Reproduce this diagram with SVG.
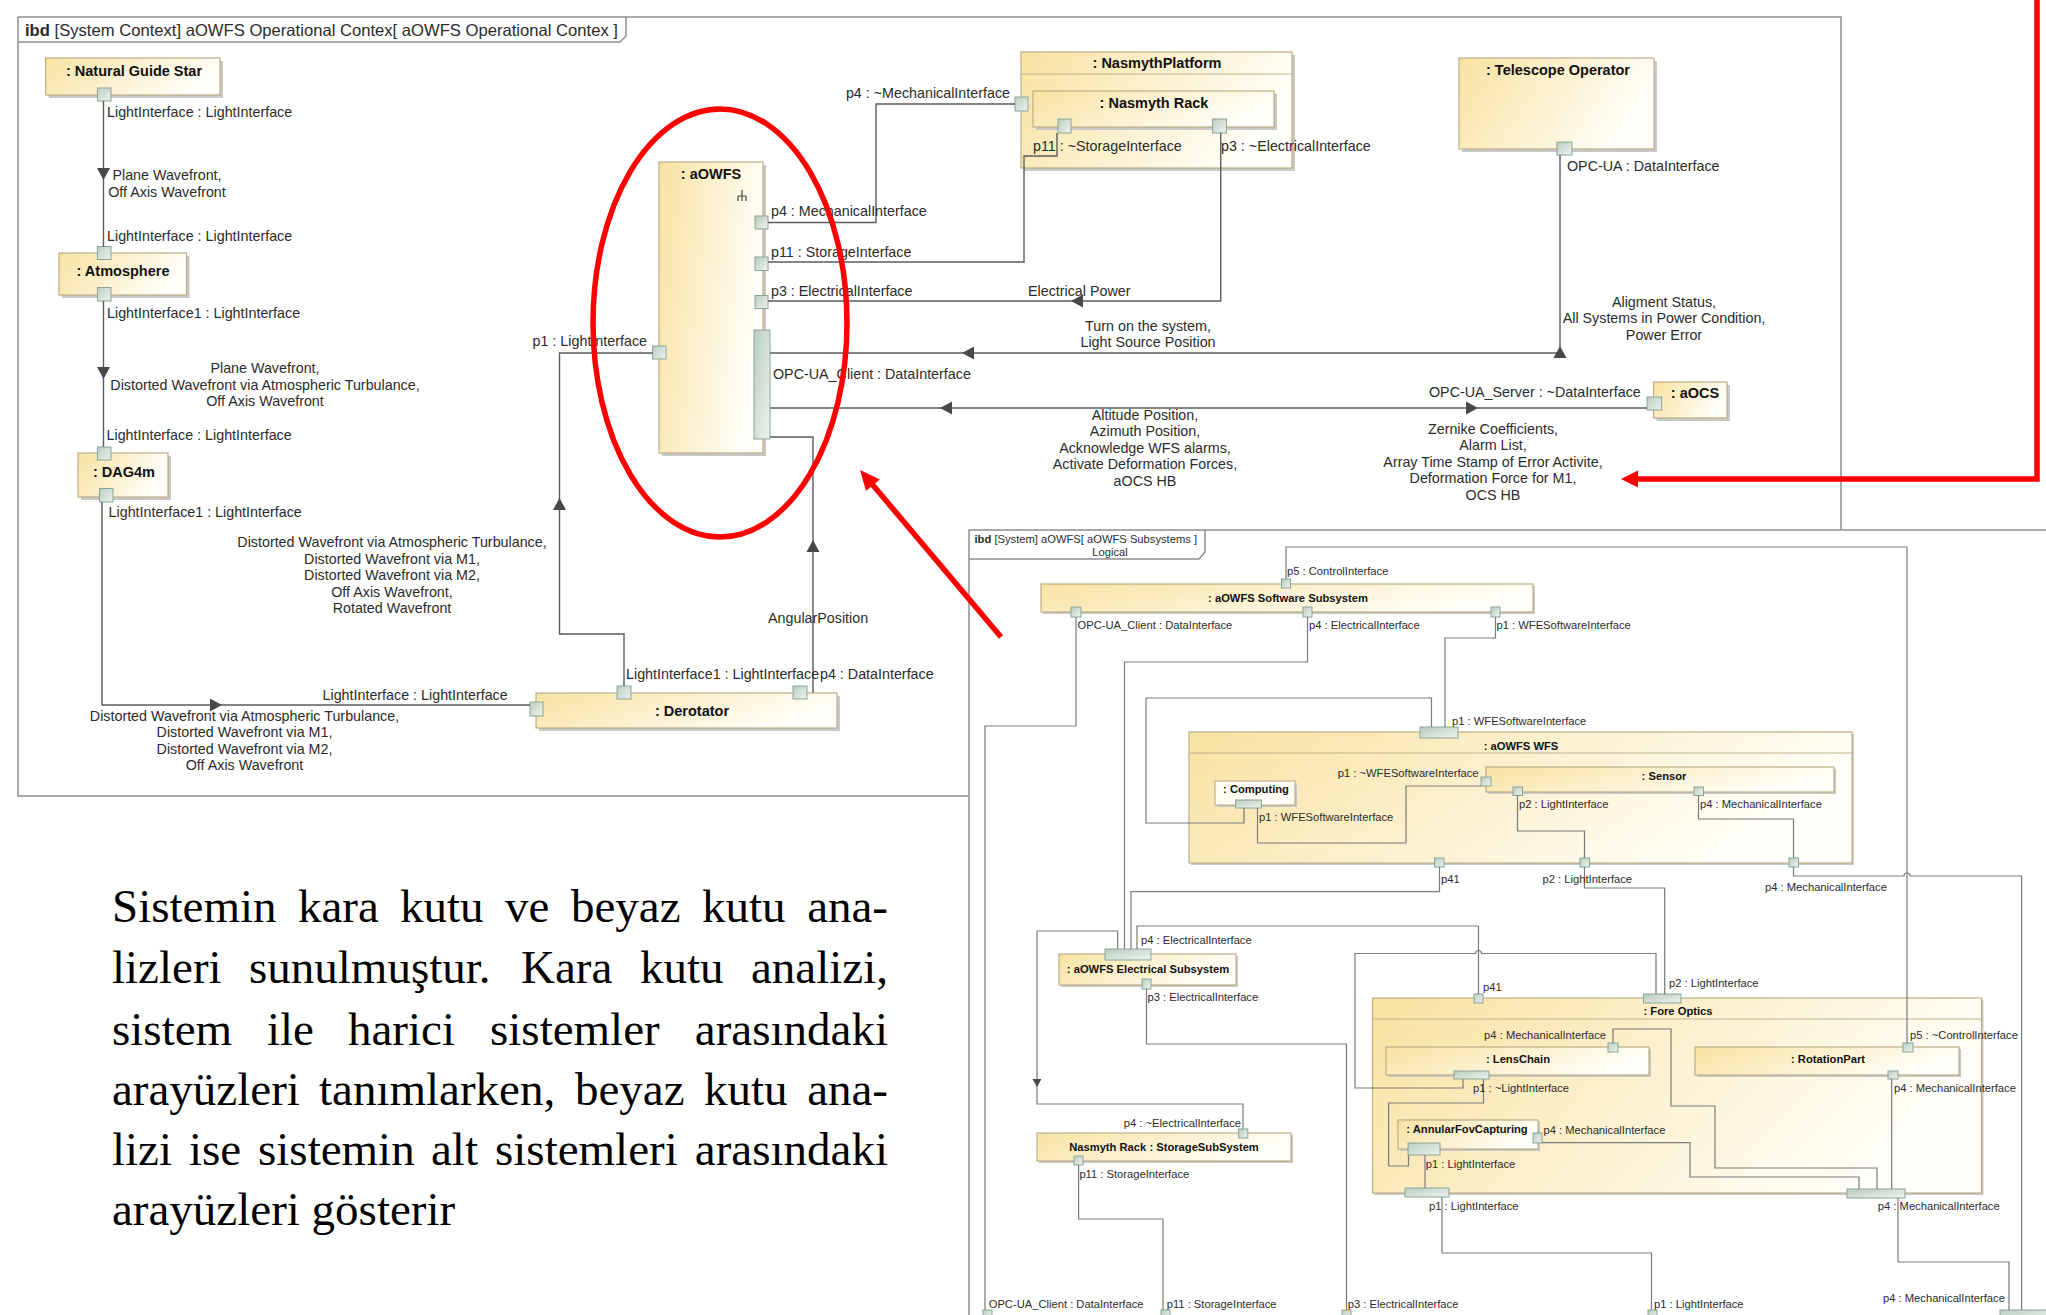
<svg xmlns="http://www.w3.org/2000/svg" width="2046" height="1315" viewBox="0 0 2046 1315">
<style>
.bg{fill:#fff}
.frame{fill:none;stroke:#8e8e8e;stroke-width:1.5}
.nd{fill:url(#ng);stroke:#bcae86;stroke-width:1.2}
.sh{fill:#c9c9c9}
.hdr{stroke:#c2b48e;stroke-width:1.1}
.pt{fill:url(#pg);stroke:#8ba595;stroke-width:1}
.cn{fill:none;stroke:#5c5c5c;stroke-width:1.4}
.icn{fill:none;stroke:#7b7b7b;stroke-width:1.2}
.l{font-family:"Liberation Sans",Arial,sans-serif;font-size:14.3px;fill:#2b2b2b}
.t{font-family:"Liberation Sans",Arial,sans-serif;font-size:14.5px;font-weight:bold;fill:#111}
.il{font-family:"Liberation Sans",Arial,sans-serif;font-size:11.2px;fill:#2b2b2b}
.it{font-family:"Liberation Sans",Arial,sans-serif;font-size:11.2px;font-weight:bold;fill:#111}
.mid{text-anchor:middle}
.end{text-anchor:end}
.red{fill:none;stroke:#f00;stroke-width:5.5}
.body{font-family:"Liberation Serif","Times New Roman",serif;font-size:47px;fill:#000}
</style>
<defs>
<linearGradient id="ng" x1="0" y1="0" x2="1" y2="0.3">
<stop offset="0" stop-color="#f8e3a2"/>
<stop offset="0.35" stop-color="#fbecc0"/>
<stop offset="1" stop-color="#fffef9"/>
</linearGradient>
<linearGradient id="pg" x1="0" y1="0" x2="1" y2="1">
<stop offset="0" stop-color="#b9cdc0"/>
<stop offset="1" stop-color="#eef3ef"/>
</linearGradient>
<path id="tri" d="M0,0 L-12,-6.5 L-12,6.5 Z" fill="#484848"/>
<path id="tri-s" d="M0,0 L-8,-4.5 L-8,4.5 Z" fill="#484848"/>
</defs>
<rect class="bg" x="0" y="0" width="2046" height="1315"/>

<!-- ===== System context diagram ===== -->
<g id="context-frame">
<path class="frame" d="M18,17 H1841 V530 M18,17 V796 H968"/>
<path class="frame" d="M18,42 H620 L626,36 V17"/>
<text class="l" x="25" y="35.5" style="font-size:16.5px" textLength="593" lengthAdjust="spacingAndGlyphs"><tspan font-weight="bold">ibd</tspan> [System Context] aOWFS Operational Contex[ aOWFS Operational Contex ]</text>
</g>

<g id="node-natural-guide-star">
<rect class="sh" x="48.6" y="61" width="174.4" height="37"/>
<rect class="nd" x="45.6" y="58" width="174.4" height="37"/>
<text class="t mid" x="134" y="76">: Natural Guide Star</text>
<rect class="pt" x="97.4" y="88" width="13.6" height="13"/>
</g>
<g id="node-atmosphere">
<rect class="sh" x="62" y="256" width="127.6" height="42"/>
<rect class="nd" x="59" y="253" width="127.6" height="42"/>
<text class="t mid" x="123" y="276">: Atmosphere</text>
<rect class="pt" x="97.4" y="246.5" width="13.6" height="13"/>
<rect class="pt" x="97.4" y="287.5" width="13.6" height="13.5"/>
</g>
<g id="node-dag4m">
<rect class="sh" x="81" y="456" width="90" height="44"/>
<rect class="nd" x="78" y="453" width="90" height="44"/>
<text class="t mid" x="124" y="477">: DAG4m</text>
<rect class="pt" x="97.4" y="447" width="13.6" height="13"/>
<rect class="pt" x="99.5" y="488.5" width="13.5" height="13.5"/>
</g>
<g id="node-derotator">
<rect class="sh" x="539" y="696" width="301" height="35"/>
<rect class="nd" x="536" y="693" width="301" height="35"/>
<text class="t mid" x="692" y="716">: Derotator</text>
<rect class="pt" x="530" y="702" width="13" height="14"/>
<rect class="pt" x="617" y="686" width="14" height="13"/>
<rect class="pt" x="793" y="686" width="14" height="13"/>
</g>
<g id="node-aowfs">
<rect class="sh" x="662" y="165" width="104" height="291"/>
<rect class="nd" x="659" y="162" width="104" height="291"/>
<text class="t mid" x="711" y="179">: aOWFS</text>
<path d="M742,190 V196 M738,196 H746 M738,196 V201 M742,196 V201 M746,196 V201" fill="none" stroke="#444" stroke-width="1.2"/>
<rect class="pt" x="755" y="216" width="13" height="13"/>
<rect class="pt" x="755" y="257" width="13" height="13.5"/>
<rect class="pt" x="755" y="295.5" width="13" height="13"/>
<rect class="pt" x="754" y="330" width="16" height="109"/>
<rect class="pt" x="652.6" y="346" width="13.4" height="13"/>
</g>
<g id="node-nasmyth-platform">
<rect class="sh" x="1024" y="55" width="271" height="116"/>
<rect class="nd" x="1021" y="52" width="271" height="116"/>
<line class="hdr" x1="1021" y1="74" x2="1292" y2="74"/>
<text class="t mid" x="1157" y="68">: NasmythPlatform</text>
<rect class="pt" x="1015" y="97" width="13" height="14"/>
<g id="node-nasmyth-rack">
<rect class="sh" x="1036" y="94" width="241" height="36"/>
<rect class="nd" x="1033" y="91" width="241" height="36"/>
<text class="t mid" x="1154" y="107.5">: Nasmyth Rack</text>
<rect class="pt" x="1058" y="119" width="13" height="14"/>
<rect class="pt" x="1212.5" y="119" width="14" height="14"/>
</g>
</g>
<g id="node-telescope-operator">
<rect class="sh" x="1462" y="61" width="195" height="91"/>
<rect class="nd" x="1459" y="58" width="195" height="91"/>
<text class="t mid" x="1558" y="74.5">: Telescope Operator</text>
<rect class="pt" x="1557" y="142" width="15" height="13"/>
</g>
<g id="node-aocs">
<rect class="sh" x="1656.5" y="385" width="73.5" height="36"/>
<rect class="nd" x="1653.5" y="382" width="73.5" height="36"/>
<text class="t mid" x="1695" y="398">: aOCS</text>
<rect class="pt" x="1647" y="397" width="14.6" height="13"/>
</g>

<g id="connectors">
<path class="cn" d="M103.5,101 V247"/>
<path class="cn" d="M103.5,301 V447"/>
<path class="cn" d="M102,502 V705 H530"/>
<path class="cn" d="M624,686 V634 H559.5 V353 H652.6"/>
<path class="cn" d="M813,693 V437 H770"/>
<path class="cn" d="M768,222.5 H876 V104 H1015"/>
<path class="cn" d="M768,262 H1024 V156 H1057 V133"/>
<path class="cn" d="M768,301 H1220.7 V133"/>
<path class="cn" d="M770,353 H1560 V155"/>
<path class="cn" d="M770,408 H1647"/>
<use href="#tri" transform="translate(103.5,180) rotate(90)"/>
<use href="#tri" transform="translate(103.5,379) rotate(90)"/>
<use href="#tri" transform="translate(222,705)"/>
<use href="#tri" transform="translate(559.5,498) rotate(-90)"/>
<use href="#tri" transform="translate(813,540) rotate(-90)"/>
<use href="#tri" transform="translate(1071,301) rotate(180)"/>
<use href="#tri" transform="translate(962,353) rotate(180)"/>
<use href="#tri" transform="translate(1560,346) rotate(-90)"/>
<use href="#tri" transform="translate(940,408) rotate(180)"/>
<use href="#tri" transform="translate(1478,408)"/>
</g>

<g id="connector-labels">
<text class="l" x="107" y="117">LightInterface : LightInterface</text>
<text class="l mid" x="167" y="180">Plane Wavefront,</text>
<text class="l mid" x="167" y="197">Off Axis Wavefront</text>
<text class="l" x="107" y="240.5">LightInterface : LightInterface</text>
<text class="l" x="107" y="317.5">LightInterface1 : LightInterface</text>
<text class="l mid" x="265" y="373">Plane Wavefront,</text>
<text class="l mid" x="265" y="389.5">Distorted Wavefront via Atmospheric Turbulance,</text>
<text class="l mid" x="265" y="406">Off Axis Wavefront</text>
<text class="l" x="106.5" y="440">LightInterface : LightInterface</text>
<text class="l" x="108.6" y="517">LightInterface1 : LightInterface</text>
<text class="l mid" x="392" y="547">Distorted Wavefront via Atmospheric Turbulance,</text>
<text class="l mid" x="392" y="563.6">Distorted Wavefront via M1,</text>
<text class="l mid" x="392" y="580.2">Distorted Wavefront via M2,</text>
<text class="l mid" x="392" y="596.8">Off Axis Wavefront,</text>
<text class="l mid" x="392" y="613.4">Rotated Wavefront</text>
<text class="l" x="322.5" y="699.5">LightInterface : LightInterface</text>
<text class="l mid" x="244.5" y="720.5">Distorted Wavefront via Atmospheric Turbulance,</text>
<text class="l mid" x="244.5" y="737">Distorted Wavefront via M1,</text>
<text class="l mid" x="244.5" y="753.7">Distorted Wavefront via M2,</text>
<text class="l mid" x="244.5" y="770.3">Off Axis Wavefront</text>
<text class="l" x="626" y="678.5">LightInterface1 : LightInterface</text>
<text class="l" x="820" y="678.5">p4 : DataInterface</text>
<text class="l" x="768" y="622.5">AngularPosition</text>
<text class="l end" x="647" y="346">p1 : LightInterface</text>
<text class="l" x="771" y="216">p4 : MechanicalInterface</text>
<text class="l" x="771" y="257">p11 : StorageInterface</text>
<text class="l" x="771" y="295.5">p3 : ElectricalInterface</text>
<text class="l" x="773" y="378.5">OPC-UA_Client : DataInterface</text>
<text class="l end" x="1010" y="97.5">p4 : ~MechanicalInterface</text>
<text class="l" x="1033" y="150.5">p11 : ~StorageInterface</text>
<text class="l" x="1221" y="150.5">p3 : ~ElectricalInterface</text>
<text class="l" x="1028" y="295.5">Electrical Power</text>
<text class="l mid" x="1148" y="330.5">Turn on the system,</text>
<text class="l mid" x="1148" y="346.5">Light Source Position</text>
<text class="l" x="1567" y="171">OPC-UA : DataInterface</text>
<text class="l mid" x="1664" y="306.5">Aligment Status,</text>
<text class="l mid" x="1664" y="323">All Systems in Power Condition,</text>
<text class="l mid" x="1664" y="339.5">Power Error</text>
<text class="l" x="1429" y="397">OPC-UA_Server : ~DataInterface</text>
<text class="l mid" x="1145" y="419.5">Altitude Position,</text>
<text class="l mid" x="1145" y="436">Azimuth Position,</text>
<text class="l mid" x="1145" y="452.7">Acknowledge WFS alarms,</text>
<text class="l mid" x="1145" y="469.3">Activate Deformation Forces,</text>
<text class="l mid" x="1145" y="486">aOCS HB</text>
<text class="l mid" x="1493" y="433.5">Zernike Coefficients,</text>
<text class="l mid" x="1493" y="450">Alarm List,</text>
<text class="l mid" x="1493" y="466.7">Array Time Stamp of Error Activite,</text>
<text class="l mid" x="1493" y="483.3">Deformation Force for M1,</text>
<text class="l mid" x="1493" y="500">OCS HB</text>
</g>

<!-- ===== Subsystem diagram ===== -->
<g id="subsystem-frame">
<rect class="bg" x="969" y="530" width="1077" height="785"/>
<path class="frame" d="M969,1315 V530 H2046"/>
<path class="frame" d="M969,559 H1199 L1205,552 V530"/>
<text class="il" x="974.5" y="543"><tspan font-weight="bold">ibd</tspan> [System] aOWFS[ aOWFS Subsystems ]</text>
<text class="il mid" x="1110" y="556">Logical</text>
</g>

<g id="sub-nodes">
<g id="node-software-subsystem">
<rect class="sh" x="1043" y="586" width="492" height="28"/>
<rect class="nd" x="1041" y="584" width="492" height="28"/>
<text class="it mid" x="1288" y="602">: aOWFS Software Subsystem</text>
<rect class="pt" x="1281.5" y="579" width="9" height="9"/>
<rect class="pt" x="1071" y="607" width="10" height="10"/>
<rect class="pt" x="1303" y="607" width="9" height="10"/>
<rect class="pt" x="1491" y="607" width="9" height="10"/>
</g>
<g id="node-wfs">
<rect class="sh" x="1191" y="734" width="663" height="131"/>
<rect class="nd" x="1189" y="732" width="663" height="131"/>
<line class="hdr" x1="1189" y1="753" x2="1852" y2="753"/>
<text class="it mid" x="1521" y="750">: aOWFS WFS</text>
<g id="node-computing">
<rect class="sh" x="1217" y="783" width="80" height="24"/>
<rect x="1215" y="781" width="80" height="24" fill="#fffdf6" stroke="#bcae86" stroke-width="1.1"/>
<text class="it mid" x="1256" y="793">: Computing</text>
<rect class="pt" x="1235.5" y="800" width="26" height="8"/>
</g>
<g id="node-sensor">
<rect class="sh" x="1488" y="769" width="348" height="25"/>
<rect class="nd" x="1486" y="767" width="348" height="25"/>
<text class="it mid" x="1664" y="780">: Sensor</text>
<rect class="pt" x="1481" y="777" width="10" height="9"/>
<rect class="pt" x="1513" y="787" width="9.5" height="8.5"/>
<rect class="pt" x="1694" y="787" width="9.5" height="8.5"/>
</g>
<rect class="pt" x="1420" y="727" width="38" height="11"/>
<rect class="pt" x="1434.5" y="858" width="9.5" height="9"/>
<rect class="pt" x="1580" y="858" width="9.5" height="9"/>
<rect class="pt" x="1789" y="858" width="9.5" height="9"/>
</g>
<g id="node-electrical-subsystem">
<rect class="sh" x="1061" y="956" width="177" height="31"/>
<rect class="nd" x="1059" y="954" width="177" height="31"/>
<text class="it mid" x="1148" y="973">: aOWFS Electrical Subsystem</text>
<rect class="pt" x="1105" y="949" width="46" height="11"/>
<rect class="pt" x="1142" y="979" width="9" height="10"/>
</g>
<g id="node-storage-subsystem">
<rect class="sh" x="1039" y="1135" width="254" height="28"/>
<rect class="nd" x="1037" y="1133" width="254" height="28"/>
<text class="it mid" x="1164" y="1151">Nasmyth Rack : StorageSubSystem</text>
<rect class="pt" x="1238.6" y="1129" width="9.2" height="9"/>
<rect class="pt" x="1074" y="1156" width="9" height="9"/>
</g>
<g id="node-fore-optics">
<rect class="sh" x="1374.5" y="1000" width="609" height="195"/>
<rect class="nd" x="1372.5" y="998" width="609" height="195"/>
<line class="hdr" x1="1372.5" y1="1019" x2="1981.5" y2="1019"/>
<text class="it mid" x="1678" y="1015">: Fore Optics</text>
<g id="node-lens-chain">
<rect class="sh" x="1388" y="1049" width="263" height="28"/>
<rect class="nd" x="1386" y="1047" width="263" height="28"/>
<text class="it mid" x="1518" y="1063">: LensChain</text>
<rect class="pt" x="1608" y="1043" width="10" height="9"/>
<rect class="pt" x="1454" y="1071" width="35" height="8"/>
</g>
<g id="node-rotation-part">
<rect class="sh" x="1697" y="1049" width="264" height="28"/>
<rect class="nd" x="1695" y="1047" width="264" height="28"/>
<text class="it mid" x="1828" y="1063">: RotationPart</text>
<rect class="pt" x="1903" y="1043" width="10" height="9"/>
<rect class="pt" x="1888" y="1071" width="10" height="8"/>
</g>
<g id="node-annular-fov-capturing">
<rect class="sh" x="1400" y="1122" width="140" height="29"/>
<rect class="nd" x="1398" y="1120" width="140" height="29"/>
<text class="it mid" x="1467" y="1133">: AnnularFovCapturing</text>
<rect class="pt" x="1533" y="1133" width="9" height="10"/>
<rect class="pt" x="1408" y="1143" width="32" height="12"/>
</g>
<rect class="pt" x="1643.5" y="994" width="37.5" height="9"/>
<rect class="pt" x="1474" y="994" width="9" height="9"/>
<rect class="pt" x="1405" y="1188" width="44" height="9"/>
<rect class="pt" x="1847" y="1189" width="58" height="9"/>
</g>
<g id="boundary-ports">
<rect class="pt" x="983" y="1310" width="9" height="9"/>
<rect class="pt" x="1161" y="1310" width="9" height="9"/>
<rect class="pt" x="1342" y="1310" width="9" height="9"/>
<rect class="pt" x="1648" y="1310" width="9" height="9"/>
<rect class="pt" x="2000" y="1310" width="50" height="9"/>
</g>
</g>

<g id="sub-connectors">
<path class="icn" d="M1076,617 V726 H985 V1310"/>
<path class="icn" d="M1307.5,617 V662 H1124.5 V949"/>
<path class="icn" d="M1495.5,617 V638 H1445 V727"/>
<path class="icn" d="M1286,579 V547 H1907 V1043"/>
<path class="icn" d="M1431.5,727 V698 H1146 V823 H1244 V808"/>
<path class="icn" d="M1257.5,808 V843 H1406 V786 H1481"/>
<path class="icn" d="M1517.5,795 V831 H1584.5 V858"/>
<path class="icn" d="M1698.5,795 V819 H1793.5 V858"/>
<path class="icn" d="M1439.5,867 V891.7 H1131 V949"/>
<path class="icn" d="M1584.5,867 V888 H1664.7 V994"/>
<path class="icn" d="M1793.5,867 V876 H1904 A3,3 0 0 1 1910,876 H2021.6 V1310"/>
<path class="icn" d="M1117.7,949 V931 H1037 V1104 H1243 V1129"/>
<path class="icn" d="M1137,949 V926 H1478.5 V994"/>
<path class="icn" d="M1146.5,989 V1044 H1346.5 V1310"/>
<path class="icn" d="M1078.6,1165 V1219 H1163 V1310"/>
<path class="icn" d="M1463,1079 V1088 H1355 V953.5 H1475.5 A3,3 0 0 1 1481.5,953.5 H1656 V994"/>
<path class="icn" d="M1483.5,1079 V1103 H1388.6 V1166 H1408.5 V1155"/>
<path class="icn" d="M1425,1155 V1188"/>
<path class="icn" d="M1442,1197 V1253 H1651.5 V1310"/>
<path class="icn" d="M1613,1043 V1029 H1671 V1106 H1715 V1168 H1877 V1189"/>
<path class="icn" d="M1542,1142.7 H1690 V1177 H1859 V1189"/>
<path class="icn" d="M1891.7,1079 V1189"/>
<path class="icn" d="M1898,1198 V1262 H2009 V1310"/>
<use href="#tri-s" transform="translate(1037,1087) rotate(90)"/>
</g>

<g id="sub-labels">
<text class="il" x="1287" y="575">p5 : ControlInterface</text>
<text class="il" x="1077.5" y="629">OPC-UA_Client : DataInterface</text>
<text class="il" x="1309" y="629">p4 : ElectricalInterface</text>
<text class="il" x="1496.5" y="629">p1 : WFESoftwareInterface</text>
<text class="il" x="1452" y="725">p1 : WFESoftwareInterface</text>
<text class="il end" x="1478.6" y="777">p1 : ~WFESoftwareInterface</text>
<text class="il" x="1259" y="821">p1 : WFESoftwareInterface</text>
<text class="il" x="1519" y="808">p2 : LightInterface</text>
<text class="il" x="1700" y="808">p4 : MechanicalInterface</text>
<text class="il" x="1441" y="883">p41</text>
<text class="il" x="1542.5" y="883">p2 : LightInterface</text>
<text class="il" x="1765" y="891">p4 : MechanicalInterface</text>
<text class="il" x="1141" y="944">p4 : ElectricalInterface</text>
<text class="il" x="1147.5" y="1001">p3 : ElectricalInterface</text>
<text class="il" x="1483" y="991">p41</text>
<text class="il" x="1669" y="987">p2 : LightInterface</text>
<text class="il end" x="1606" y="1039">p4 : MechanicalInterface</text>
<text class="il" x="1910" y="1039">p5 : ~ControlInterface</text>
<text class="il" x="1473" y="1092">p1 : ~LightInterface</text>
<text class="il" x="1894" y="1092">p4 : MechanicalInterface</text>
<text class="il" x="1543.5" y="1134">p4 : MechanicalInterface</text>
<text class="il" x="1425.7" y="1168">p1 : LightInterface</text>
<text class="il" x="1429" y="1210">p1 : LightInterface</text>
<text class="il" x="1877.8" y="1210">p4 : MechanicalInterface</text>
<text class="il end" x="1241" y="1127">p4 : ~ElectricalInterface</text>
<text class="il" x="1079.4" y="1178">p11 : StorageInterface</text>
<text class="il" x="988.7" y="1308">OPC-UA_Client : DataInterface</text>
<text class="il" x="1166.7" y="1308">p11 : StorageInterface</text>
<text class="il" x="1347.7" y="1308">p3 : ElectricalInterface</text>
<text class="il" x="1654" y="1308">p1 : LightInterface</text>
<text class="il" x="1883" y="1302">p4 : MechanicalInterface</text>
</g>

<!-- ===== Description paragraph (justified word by word) ===== -->
<g id="description" class="body">
<text y="922"><tspan x="112">Sistemin</tspan><tspan x="298">kara</tspan><tspan x="400">kutu</tspan><tspan x="505">ve</tspan><tspan x="571">beyaz</tspan><tspan x="702">kutu</tspan><tspan x="888" text-anchor="end">ana-</tspan></text>
<text y="983"><tspan x="112">lizleri</tspan><tspan x="249">sunulmuştur.</tspan><tspan x="521">Kara</tspan><tspan x="640">kutu</tspan><tspan x="888" text-anchor="end">analizi,</tspan></text>
<text y="1045"><tspan x="112">sistem</tspan><tspan x="267">ile</tspan><tspan x="348">harici</tspan><tspan x="490">sistemler</tspan><tspan x="888" text-anchor="end">arasındaki</tspan></text>
<text y="1105"><tspan x="112">arayüzleri</tspan><tspan x="319">tanımlarken,</tspan><tspan x="575">beyaz</tspan><tspan x="704">kutu</tspan><tspan x="888" text-anchor="end">ana-</tspan></text>
<text y="1165"><tspan x="112">lizi</tspan><tspan x="189">ise</tspan><tspan x="258">sistemin</tspan><tspan x="431">alt</tspan><tspan x="495">sistemleri</tspan><tspan x="888" text-anchor="end">arasındaki</tspan></text>
<text y="1225" x="112">arayüzleri gösterir</text>
</g>

<!-- ===== Red highlight marks ===== -->
<g id="highlights">
<ellipse class="red" cx="720" cy="323" rx="127" ry="214"/>
<line class="red" x1="1001" y1="637" x2="872" y2="484"/>
<polygon points="860,470 879.8,479.5 866,491.1" fill="#f00"/>
<path class="red" d="M2037,0 V479 H1636"/>
<polygon points="1621,479 1638,470.5 1638,487.5" fill="#f00"/>
</g>
</svg>
